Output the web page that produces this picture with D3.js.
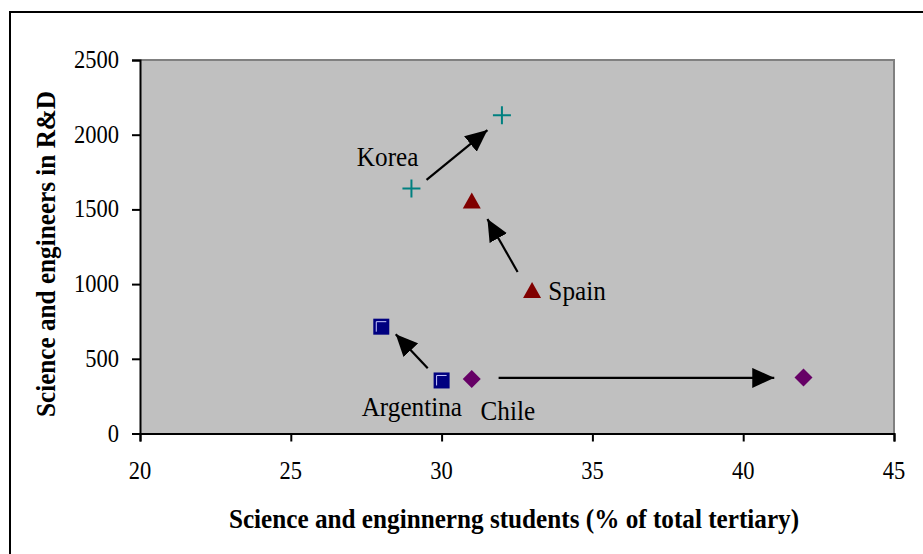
<!DOCTYPE html>
<html>
<head>
<meta charset="utf-8">
<script src="https://cdn.jsdelivr.net/npm/d3@7"></script>
<style>
  html, body { margin: 0; padding: 0; background: #fff; }
  svg { display: block; }
  text { font-family: "Liberation Serif", "Times New Roman", serif; fill: #000; }
</style>
</head>
<body>
<svg id="chart" width="923" height="554"></svg>
<script>
// Countries and their two observations (start -> end)
const countries = ["Korea", "Spain", "Argentina", "Chile"];
const startShare = [29, 33, 30, 31];        // % of tertiary students in S&E
const startRD    = [1640, 960, 355, 365];   // scientists & engineers in R&D
const endShare   = [32, 31, 28, 42];
const endRD      = [2130, 1560, 715, 375];

// Arrow annotations (data units): tail -> tip
const arrowTailX = [29.5, 32.52, 29.54, 31.89];
const arrowTailY = [1697, 1081, 437, 372];
const arrowTipX  = [31.52, 31.52, 28.48, 41.03];
const arrowTipY  = [2031, 1436, 665, 372];

// Country label anchors (data units, left/baseline)
const labelX = [27.19, 33.54, 27.35, 31.29];
const labelY = [1790, 893, 117, 90];

const xTicks = [20, 25, 30, 35, 40, 45];
const yTicks = [0, 500, 1000, 1500, 2000, 2500];

const markerShape = ["plus", "triangle", "square", "diamond"];
const markerColor = ["#008080", "#800000", "#000080", "#660066"];

const svg = d3.select("#chart");
const SX = 0.9; // horizontal glyph scale

// outer frame
svg.append("rect").attr("x", 10).attr("y", 12).attr("width", 940).attr("height", 600)
  .attr("fill", "none").attr("stroke", "#000").attr("stroke-width", 2);

const x = d3.scaleLinear().domain([20, 45]).range([140, 894]);
const y = d3.scaleLinear().domain([0, 2500]).range([433.5, 60]);

// plot area
svg.append("rect").attr("x", x(20)).attr("y", y(2500))
  .attr("width", x(45) - x(20)).attr("height", y(0) - y(2500))
  .attr("fill", "#c0c0c0");
svg.append("path")
  .attr("d", `M${x(20)},${y(2500)}H${x(45)}V${y(0)}`)
  .attr("fill", "none").attr("stroke", "#808080").attr("stroke-width", 2);

function scaledText(g, tx, ty, str, size, anchor, weight) {
  const t = g.append("g").attr("transform", `translate(${tx},${ty}) scale(${SX},1)`)
    .append("text").attr("x", 0).attr("y", 0)
    .attr("font-size", size).attr("text-anchor", anchor || "start")
    .text(str);
  if (weight) t.attr("font-weight", weight);
  return t;
}

// axes
const xAxis = svg.append("g").attr("transform", `translate(0,${y(0)})`)
  .call(d3.axisBottom(x).tickValues(xTicks).tickSize(8).tickFormat(""));
const yAxis = svg.append("g").attr("transform", `translate(${x(20)},0)`)
  .call(d3.axisLeft(y).tickValues(yTicks).tickSize(8).tickFormat(""));
[xAxis, yAxis].forEach(a => {
  a.selectAll("path,line").attr("stroke", "#000").attr("stroke-width", 2);
});

xTicks.forEach(v => scaledText(svg, x(v), 479, String(v), 25, "middle"));
yTicks.forEach(v => scaledText(svg, 119, y(v) + 8, String(v), 25, "end"));

// axis titles
scaledText(svg, 514, 528, "Science and enginnerng students (% of total tertiary)", 28, "middle", "bold");
svg.append("g").attr("transform", `translate(55,254) rotate(-90) scale(${SX},1)`)
  .append("text").attr("text-anchor", "middle").attr("font-size", 28).attr("font-weight", "bold")
  .text("Science and engineers in R&D");

// arrows
const defs = svg.append("defs");
defs.append("marker").attr("id", "head")
  .attr("markerUnits", "userSpaceOnUse").attr("orient", "auto")
  .attr("viewBox", "0 0 22 20").attr("refX", 22).attr("refY", 10)
  .attr("markerWidth", 22).attr("markerHeight", 20)
  .append("path").attr("d", "M0,0L22,10L0,20Z").attr("fill", "#000");

countries.forEach((c, i) => {
  svg.append("line")
    .attr("x1", x(arrowTailX[i])).attr("y1", y(arrowTailY[i]))
    .attr("x2", x(arrowTipX[i])).attr("y2", y(arrowTipY[i]))
    .attr("stroke", "#000").attr("stroke-width", 2.2)
    .attr("marker-end", "url(#head)");
});

// markers
function drawMarker(cx, cy, shape, color) {
  const g = svg.append("g").attr("transform", `translate(${cx},${cy})`);
  if (shape === "plus") {
    g.append("path").attr("d", "M-9,0H9M0,-9V9").attr("stroke", color).attr("stroke-width", 2);
  } else if (shape === "triangle") {
    g.append("path").attr("d", "M0,-8L9,8L-9,8Z").attr("fill", color);
  } else if (shape === "square") {
    g.append("rect").attr("x", -8).attr("y", -8).attr("width", 16).attr("height", 16).attr("fill", color);
    g.append("path").attr("d", "M-5,5V-5H5").attr("fill", "none").attr("stroke", "#c8c8ff").attr("stroke-width", 1);
  } else {
    g.append("path").attr("d", "M0,-9L9,0L0,9L-9,0Z").attr("fill", color);
  }
}
countries.forEach((c, i) => {
  drawMarker(x(startShare[i]), y(startRD[i]), markerShape[i], markerColor[i]);
  drawMarker(x(endShare[i]), y(endRD[i]), markerShape[i], markerColor[i]);
});

// country labels
countries.forEach((c, i) => scaledText(svg, x(labelX[i]), y(labelY[i]), c, 28, "start"));
</script>
</body>
</html>
